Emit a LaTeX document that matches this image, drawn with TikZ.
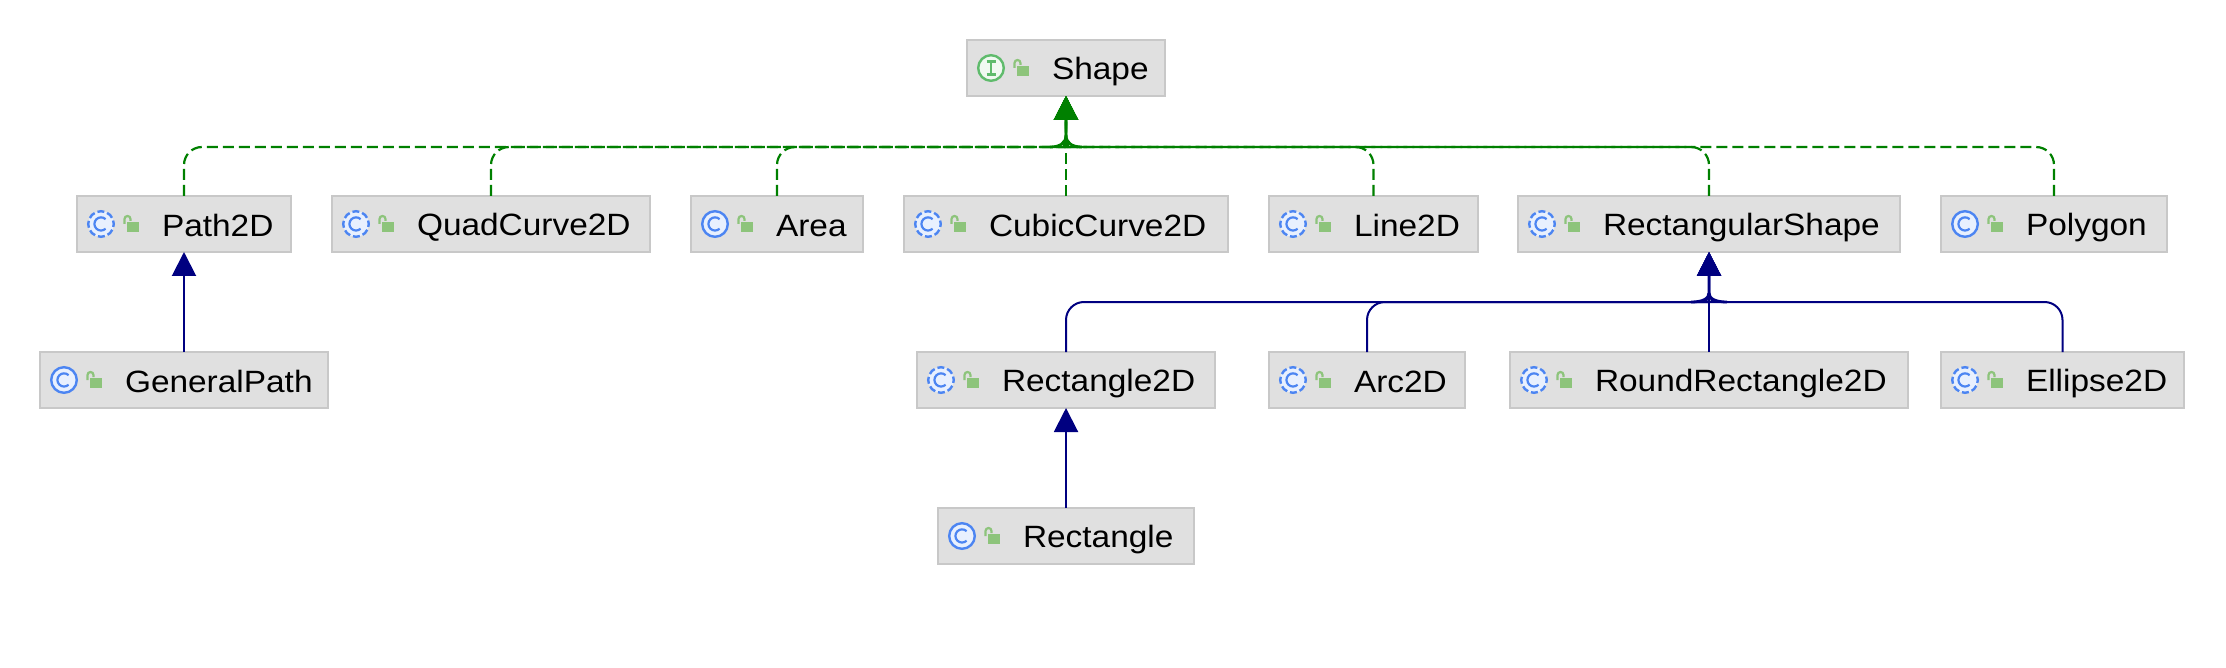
\documentclass[tikz,border=0pt]{standalone}
\usepackage{fontspec}
\setmainfont[FakeStretch=1.085]{Liberation Sans}
\usetikzlibrary{arrows.meta}
\definecolor{boxfill}{HTML}{E0E0E0}
\definecolor{boxline}{HTML}{C8C8C8}
\definecolor{implgreen}{HTML}{008000}
\definecolor{extblue}{HTML}{000080}
\definecolor{iconblue}{HTML}{4C85F2}
\definecolor{iconbluefill}{HTML}{E8F0FE}
\definecolor{icongreen}{HTML}{5FBB6C}
\definecolor{icongreenfill}{HTML}{F0F9F1}
\definecolor{lockgreen}{HTML}{8DC47B}
\tikzset{
  classbox/.style={draw=boxline,fill=boxfill,line width=0.9pt,inner sep=0pt,outer sep=0pt,
    minimum height=28pt,align=left,font=\fontsize{15.4pt}{18pt}\selectfont,text=black},
  implline/.style={draw=implgreen,line width=1.1pt,dash pattern=on 5.5pt off 2.5pt,
    -{Triangle[length=12pt,width=12pt,fill=implgreen]}},
  implstem/.style={draw=implgreen,line width=1.4pt},
  extline/.style={draw=extblue,line width=1pt,
    -{Triangle[length=12pt,width=12pt,fill=extblue]}},
  extstem/.style={draw=extblue,line width=1.4pt},
  iconring/.style={line width=1.2pt},
  classring/.style={iconring,draw=iconblue,fill=iconbluefill},
  abstractring/.style={iconring,draw=iconblue,dash pattern=on 3.5pt off 1.527pt},
  ifacering/.style={iconring,draw=icongreen,fill=icongreenfill},
}
% lock icon, coordinates are px from the west side of the box
\newcommand{\lockicon}{%
  \fill[lockgreen] (50,-2) rectangle (62,8);
  \draw[lockgreen,line width=1.1pt] (47.5,0) -- (47.5,-5) arc[start angle=180,end angle=0,radius=1.5pt] -- (53.5,-3);
}
\newcommand{\cglyph}{%
  \draw[iconblue,line width=1.1pt] (28.6,-4.8) arc[start angle=46,end angle=314,radius=3.3pt];
}
\newcommand{\solidclass}{%
  \path[classring] (24,0) circle[radius=6.4pt];\cglyph}
\newcommand{\abstractclass}{%
  \fill[iconbluefill] (24,0) circle[radius=6.4pt];
  \draw[abstractring,dash phase=1.75pt] (24,0) circle[radius=6.4pt];\cglyph}
\newcommand{\ifaceicon}{%
  \path[ifacering] (24,0) circle[radius=6.4pt];
  \draw[icongreen,line width=1.1pt] (19.5,-6.5) -- (28.5,-6.5) (24,-6.5) -- (24,6.5) (19.5,6.5) -- (28.5,6.5);}
% name, left px, right px, top px, icon macro, text
\newcommand{\cls}[6]{%
  \pgfmathsetmacro{\boxcx}{(#2+#3)/2}%
  \pgfmathsetmacro{\boxcy}{#4+28}%
  \pgfmathsetmacro{\boxwd}{(#3-#2)/2}%
  \node[classbox,text width=\boxwd pt] (#1) at (\boxcx,\boxcy)
    {\hspace*{42.5pt}\rule[-2pt]{0pt}{16.5pt}#6};
  \begin{scope}[shift={(#1.west)}]
    #5
    \lockicon
  \end{scope}%
}
\newcommand{\implleft}[1]{\draw[implline] (#1.north) [rounded corners=9pt] -- (#1.north |- gbus) -- (gleft) [sharp corners] .. controls (1060,147) and (1066,143) .. (gjunc) -- (Shape.south);}
\newcommand{\implright}[1]{\draw[implline] (#1.north) [rounded corners=9pt] -- (#1.north |- gbus) -- (gright) [sharp corners] .. controls (1072,147) and (1066,143) .. (gjunc) -- (Shape.south);}
\newcommand{\extleft}[1]{\draw[extline] (#1.north) [rounded corners=9pt] -- (#1.north |- bbus) -- (bleft) [sharp corners] .. controls (1702,302) and (1709,299) .. (bjunc) -- (RectangularShape.south);}
\newcommand{\extright}[1]{\draw[extline] (#1.north) [rounded corners=9pt] -- (#1.north |- bbus) -- (bright) [sharp corners] .. controls (1716,302) and (1709,299) .. (bjunc) -- (RectangularShape.south);}
\begin{document}
\begin{tikzpicture}[x=0.5pt,y=-0.5pt]
\useasboundingbox (0,0) rectangle (2226,668);
\coordinate (gbus) at (0,147);
\coordinate (gleft) at (1050,147);
\coordinate (gright) at (1082,147);
\coordinate (gjunc) at (1066,135);
\coordinate (gtop) at (1066,120);
\coordinate (bbus) at (0,302);
\coordinate (bleft) at (1691,302);
\coordinate (bright) at (1727,302);
\coordinate (bjunc) at (1709,293);
\coordinate (btop) at (1709,276);

\cls{Shape}{967}{1165}{40}{\ifaceicon}{Shape}
\cls{Path2D}{77}{291}{196}{\abstractclass}{Path2D}
\cls{QuadCurve2D}{332}{650}{196}{\abstractclass}{QuadCurve2D}
\cls{Area}{691}{863}{196}{\solidclass}{Area}
\cls{CubicCurve2D}{904}{1228}{196}{\abstractclass}{CubicCurve2D}
\cls{Line2D}{1269}{1478}{196}{\abstractclass}{Line2D}
\cls{RectangularShape}{1518}{1900}{196}{\abstractclass}{RectangularShape}
\cls{Polygon}{1941}{2167}{196}{\solidclass}{Polygon}
\cls{GeneralPath}{40}{328}{352}{\solidclass}{GeneralPath}
\cls{Rectangle2D}{917}{1215}{352}{\abstractclass}{Rectangle2D}
\cls{Arc2D}{1269}{1465}{352}{\abstractclass}{Arc2D}
\cls{RoundRectangle2D}{1510}{1908}{352}{\abstractclass}{RoundRectangle2D}
\cls{Ellipse2D}{1941}{2184}{352}{\abstractclass}{Ellipse2D}
\cls{Rectangle}{938}{1194}{508}{\solidclass}{Rectangle}

\implleft{Path2D}
\implleft{QuadCurve2D}
\implleft{Area}
\draw[implline] (CubicCurve2D.north) -- (Shape.south);
\implright{Line2D}
\implright{RectangularShape}
\implright{Polygon}
\draw[implstem] (gleft) .. controls (1060,147) and (1066,143) .. (gjunc) -- (gtop);
\draw[implstem] (gright) .. controls (1072,147) and (1066,143) .. (gjunc);

\extleft{Rectangle2D}
\extleft{Arc2D}
\draw[extline] (RoundRectangle2D.north) -- (RectangularShape.south);
\extright{Ellipse2D}
\draw[extstem] (bleft) .. controls (1702,302) and (1709,299) .. (bjunc) -- (btop);
\draw[extstem] (bright) .. controls (1716,302) and (1709,299) .. (bjunc);
\draw[extline] (GeneralPath.north) -- (Path2D.south);
\draw[extline] (Rectangle.north) -- (Rectangle2D.south);
\end{tikzpicture}
\end{document}
